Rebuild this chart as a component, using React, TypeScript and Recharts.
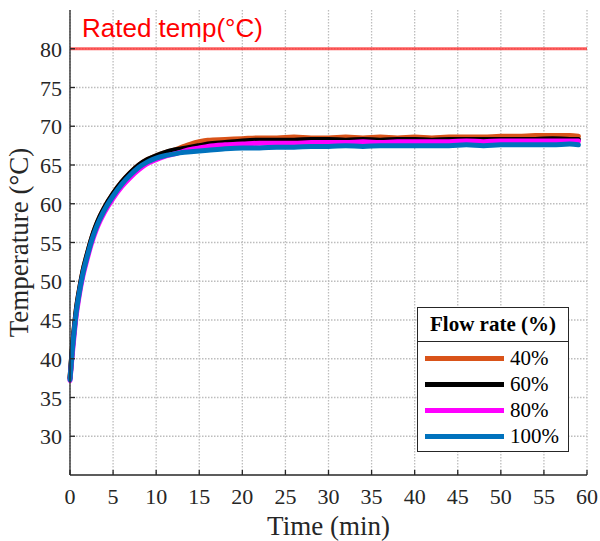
import React from 'react';
import {
  LineChart,
  Line,
  XAxis,
  YAxis,
  CartesianGrid,
  ReferenceLine,
  Legend,
} from 'recharts';

// time axis (min)
const times = [
  0, 0.25, 0.5, 0.75, 1, 1.5, 2, 2.5, 3, 3.5, 4, 5, 6, 7, 8, 9, 10, 11, 12, 13, 14, 15, 16, 18,
  20, 22, 24, 26, 28, 30, 32, 34, 36, 38, 40, 42, 44, 46, 48, 50, 52, 54, 56, 58, 59,
];

// temperature (°C) per flow rate
const flow40 = [
  37.5, 41.1, 44.0, 46.5, 48.3, 51.3, 53.5, 55.5, 57.1, 58.4, 59.5, 61.3, 62.8, 64.0, 65.0, 65.7,
  66.2, 66.6, 66.9, 67.3, 67.7, 68.0, 68.2, 68.3, 68.4, 68.5, 68.5, 68.6, 68.5, 68.5, 68.6, 68.5,
  68.6, 68.5, 68.6, 68.5, 68.6, 68.6, 68.6, 68.7, 68.7, 68.8, 68.8, 68.8, 68.7,
];
const flow60 = [
  37.5, 41.1, 44.0, 46.5, 48.3, 51.3, 53.5, 55.5, 57.1, 58.4, 59.5, 61.3, 62.8, 64.0, 65.0, 65.7,
  66.2, 66.6, 66.9, 67.1, 67.3, 67.5, 67.7, 67.9, 68.1, 68.2, 68.2, 68.2, 68.3, 68.3, 68.2, 68.3,
  68.2, 68.3, 68.3, 68.2, 68.3, 68.3, 68.3, 68.3, 68.3, 68.3, 68.4, 68.3, 68.3,
];
const flow80 = [
  37.2, 40.4, 43.3, 45.8, 47.7, 50.7, 52.9, 54.9, 56.5, 57.8, 58.9, 60.7, 62.2, 63.4, 64.4, 65.2,
  65.7, 66.1, 66.4, 66.7, 67.0, 67.2, 67.4, 67.6, 67.7, 67.8, 67.8, 67.8, 67.9, 67.9, 67.9, 68.0,
  67.9, 68.0, 68.0, 68.0, 68.0, 68.1, 68.0, 68.1, 68.1, 68.1, 68.1, 68.1, 68.1,
];
const flow100 = [
  37.3, 40.8, 43.7, 46.2, 48.0, 51.0, 53.2, 55.2, 56.8, 58.1, 59.2, 61.0, 62.5, 63.7, 64.7, 65.4,
  65.9, 66.2, 66.4, 66.6, 66.7, 66.8, 66.9, 67.1, 67.2, 67.2, 67.3, 67.3, 67.4, 67.4, 67.5, 67.4,
  67.5, 67.5, 67.5, 67.5, 67.5, 67.6, 67.5, 67.6, 67.6, 67.6, 67.6, 67.7, 67.6,
];

const xTicks = [0, 5, 10, 15, 20, 25, 30, 35, 40, 45, 50, 55, 60];
const yTicks = [30, 35, 40, 45, 50, 55, 60, 65, 70, 75, 80];
const RATED_TEMP = 80;
const legendOrder = ['f40', 'f60', 'f80', 'f100'];

const data = times.map((t, i) => ({
  t,
  f40: flow40[i],
  f60: flow60[i],
  f80: flow80[i],
  f100: flow100[i],
}));

const SERIF = '"Liberation Serif", "Times New Roman", serif';
const AXIS_COLOR = '#262626';

const XTick = ({ x, y, payload }: any) => (
  <text x={x} y={y + 15} textAnchor="middle" fill={AXIS_COLOR} fontSize={22} fontFamily={SERIF}>
    {payload.value}
  </text>
);

const YTick = ({ x, y, payload }: any) => (
  <text x={x} y={y + 8} textAnchor="end" fill={AXIS_COLOR} fontSize={22} fontFamily={SERIF}>
    {payload.value}
  </text>
);

const FlowLegend = ({ payload }: any) => {
  const items = [...(payload || [])].sort(
    (a: any, b: any) => legendOrder.indexOf(a.dataKey) - legendOrder.indexOf(b.dataKey)
  );
  return (
    <div
      style={{
        width: 150,
        height: 143,
        border: '1px solid #262626',
        background: '#fff',
        fontFamily: SERIF,
        color: '#000',
        boxSizing: 'content-box',
      }}
    >
      <div
        style={{
          height: 33,
          lineHeight: '33px',
          borderBottom: '1px solid #262626',
          textAlign: 'center',
          fontWeight: 'bold',
          fontSize: 21,
        }}
      >
        Flow rate (%)
      </div>
      <div style={{ paddingTop: 3 }}>
        {items.map((entry: any) => (
          <div
            key={entry.value}
            style={{ display: 'flex', alignItems: 'center', height: 26, paddingLeft: 7 }}
          >
            <div style={{ width: 79, height: 5, background: entry.color, marginRight: 6 }} />
            <span style={{ fontSize: 21, lineHeight: '26px' }}>{entry.value}</span>
          </div>
        ))}
      </div>
    </div>
  );
};

const RatedLabel = ({ viewBox }: any) => (
  <text
    x={viewBox.x + 12}
    y={viewBox.y - 12}
    fill="#ff0000"
    fontSize={26}
    fontFamily='"Liberation Sans", Arial, sans-serif'
  >
    Rated temp(°C)
  </text>
);

const YTitle = ({ viewBox }: any) => {
  const x = viewBox.x + 20;
  const y = viewBox.y + viewBox.height / 2;
  return (
    <text
      x={x}
      y={y}
      transform={`rotate(-90, ${x}, ${y})`}
      textAnchor="middle"
      fill={AXIS_COLOR}
      fontSize={27}
      fontFamily={SERIF}
    >
      Temperature (°C)
    </text>
  );
};

export default function App() {
  return (
    <div style={{ position: 'absolute', left: 0, top: 0, background: '#fff', fontFamily: SERIF }}>
      <LineChart
        width={600}
        height={541}
        data={data}
        margin={{ top: 10, right: 13, bottom: 0, left: 8 }}
      >
        <CartesianGrid
          stroke="#bdbdbd"
          strokeDasharray="1.5 1.5"
          strokeWidth={1.3}
          horizontalValues={yTicks}
          verticalValues={xTicks}
        />
        <XAxis
          dataKey="t"
          type="number"
          domain={[0, 60]}
          ticks={xTicks}
          interval={0}
          height={66}
          tickSize={-5}
          tickMargin={19}
          tick={<XTick />}
          stroke={AXIS_COLOR}
          strokeWidth={1.3}
          label={{
            value: 'Time (min)',
            position: 'insideBottom',
            offset: 6,
            fontSize: 27,
            fontFamily: SERIF,
            fill: AXIS_COLOR,
          }}
        />
        <XAxis
          xAxisId="top"
          orientation="top"
          type="number"
          domain={[0, 60]}
          ticks={xTicks}
          interval={0}
          height={0}
          tickSize={-5}
          tick={false}
          stroke={AXIS_COLOR}
          strokeWidth={1.3}
        />
        <YAxis
          type="number"
          domain={[25, 85]}
          ticks={yTicks}
          interval={0}
          width={62}
          tickSize={-5}
          tickMargin={13}
          tick={<YTick />}
          stroke={AXIS_COLOR}
          strokeWidth={1.3}
          label={<YTitle />}
        />
        <YAxis
          yAxisId="right"
          orientation="right"
          type="number"
          domain={[25, 85]}
          ticks={yTicks}
          interval={0}
          width={0}
          tickSize={-5}
          tick={false}
          stroke={AXIS_COLOR}
          strokeWidth={1.3}
        />
        <ReferenceLine
          y={RATED_TEMP}
          stroke="#ff2a2a"
          strokeOpacity={0.75}
          strokeWidth={3}
          label={<RatedLabel />}
        />
        <Legend
          layout="vertical"
          align="center"
          verticalAlign="middle"
          content={<FlowLegend />}
          wrapperStyle={{ left: 417, top: 307, width: 152 }}
        />
        <Line
          name="40%"
          dataKey="f40"
          type="monotone"
          stroke="#D95319"
          strokeWidth={5}
          strokeLinecap="round"
          dot={false}
          isAnimationActive={false}
        />
        <Line
          name="60%"
          dataKey="f60"
          type="monotone"
          stroke="#000000"
          strokeWidth={5}
          strokeLinecap="round"
          dot={false}
          isAnimationActive={false}
        />
        <Line
          name="80%"
          dataKey="f80"
          type="monotone"
          stroke="#FF00FF"
          strokeWidth={5}
          strokeLinecap="round"
          dot={false}
          isAnimationActive={false}
        />
        <Line
          name="100%"
          dataKey="f100"
          type="monotone"
          stroke="#0072BD"
          strokeWidth={5}
          strokeLinecap="round"
          dot={false}
          isAnimationActive={false}
        />
      </LineChart>
    </div>
  );
}
